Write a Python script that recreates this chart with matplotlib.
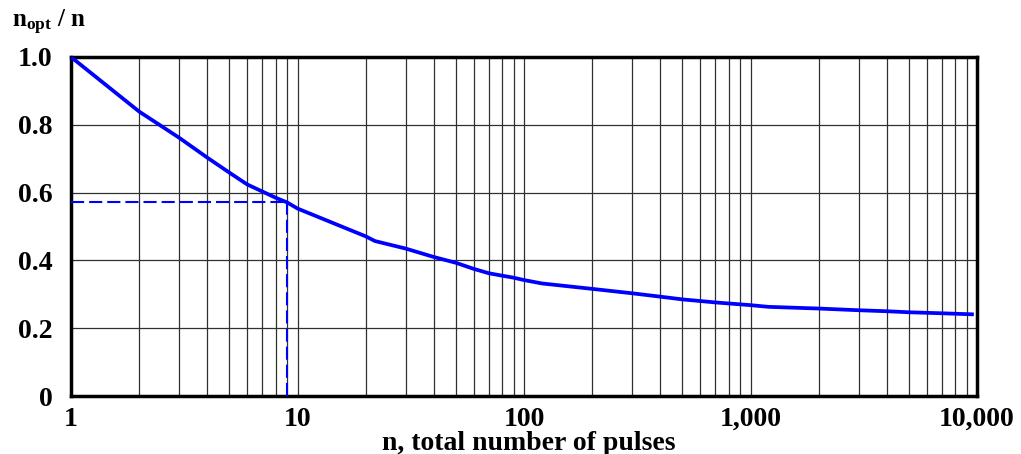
import numpy as np
import matplotlib
matplotlib.use("Agg")
import matplotlib.pyplot as plt
from matplotlib.ticker import FixedLocator, NullFormatter

# pulse count vs optimal fraction
n_pulses = [1, 2, 3, 4, 5, 6, 8, 9, 10, 20, 22, 30, 40, 50, 60, 70, 80, 90, 100,
            120, 200, 300, 400, 500, 700, 1000, 1200, 2000, 3000, 4000, 5000, 7000, 9500]
ratio = [1.0, 0.839, 0.762, 0.703, 0.659, 0.624, 0.585, 0.571, 0.553, 0.471, 0.457,
         0.435, 0.410, 0.393, 0.375, 0.362, 0.355, 0.349, 0.342, 0.332, 0.316, 0.303,
         0.293, 0.285, 0.276, 0.268, 0.263, 0.258, 0.253, 0.250, 0.247, 0.244, 0.241]

# worked example marked with dashed lines
example_n = 9
example_ratio = 0.571

x_ticks = [1, 10, 100, 1000, 10000]
x_tick_labels = ["1", "10", "100", "1,000", "10,000"]
y_ticks = [0, 0.2, 0.4, 0.6, 0.8, 1.0]
y_tick_labels = ["0", "0.2", "0.4", "0.6", "0.8", "1.0"]

plt.rcParams["font.family"] = ["Liberation Serif", "DejaVu Serif"]
plt.rcParams["font.weight"] = "bold"
plt.rcParams["mathtext.fontset"] = "custom"
plt.rcParams["mathtext.rm"] = "Liberation Serif:bold"
plt.rcParams["mathtext.it"] = "Liberation Serif:bold"
plt.rcParams["mathtext.bf"] = "Liberation Serif:bold"

FS = 20

W, H = 1021, 454
fig = plt.figure(figsize=(W / 100, H / 100), dpi=100)
ax = fig.add_axes([71 / W, 1 - 396 / H, (977 - 71) / W, (396 - 57) / H])

ax.set_xscale("log")
ax.set_xlim(1, 10000)
ax.set_ylim(0, 1.0)

# grid: every integer in each decade, plus 0.2 steps
minor = [m * 10 ** d for d in range(4) for m in range(2, 10)]
ax.xaxis.set_major_locator(FixedLocator(x_ticks))
ax.xaxis.set_minor_locator(FixedLocator(minor))
ax.xaxis.set_minor_formatter(NullFormatter())
ax.set_xticklabels(x_tick_labels)
ax.set_yticks(y_ticks)
ax.set_yticklabels(y_tick_labels)
ax.grid(True, which="both", axis="x", color="#303030", linewidth=0.9)
ax.grid(True, which="major", axis="y", color="#303030", linewidth=0.9)
ax.tick_params(which="both", length=0, labelsize=FS)
ax.tick_params(axis="y", pad=13.5)
ax.tick_params(axis="x", pad=8)
for sp in ax.spines.values():
    sp.set_linewidth(2.5)
    sp.set_color("black")

ax.plot(n_pulses, ratio, color="#0000ff", linewidth=2.7, solid_joinstyle="round", zorder=4)
ax.plot([1, example_n], [example_ratio, example_ratio], color="#0000ff",
        linewidth=1.5, dashes=(6.3, 2.4), zorder=3)
ax.plot([example_n, example_n], [0, example_ratio], color="#0000ff",
        linewidth=1.5, dashes=(6.3, 2.4), zorder=3)

for lbl in ax.get_xticklabels() + ax.get_yticklabels():
    lbl.set_fontweight("bold")

fig.text(529 / W, 1 - 450 / H, "n, total number of pulses", ha="center", va="baseline",
         fontsize=FS, fontweight="bold")
fig.text(12 / W, 1 - 27 / H, r"$\mathrm{n_{opt}}$ / n", ha="left", va="baseline",
         fontsize=18, fontweight="bold")

fig.savefig("out.png", dpi=100)
